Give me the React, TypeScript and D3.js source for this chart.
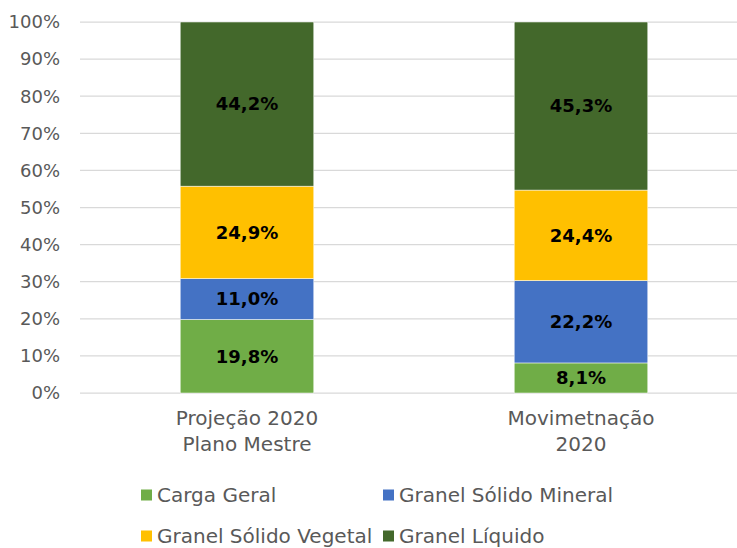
import React, { useEffect, useRef } from 'react'
import * as d3 from 'd3'

const categories = [['Projeção 2020', 'Plano Mestre'], ['Movimetnação', '2020']]
const seriesNames = ['Carga Geral', 'Granel Sólido Mineral', 'Granel Sólido Vegetal', 'Granel Líquido']
const seriesColors = ['#70AD47', '#4472C4', '#FFC000', '#43682B']
const cargaGeral = [19.8, 8.1]
const granelMineral = [11.0, 22.2]
const granelVegetal = [24.9, 24.4]
const granelLiquido = [44.2, 45.3]
const yTicks = [0, 10, 20, 30, 40, 50, 60, 70, 80, 90, 100]

const font = '"DejaVu Sans", sans-serif'

const App = () => {
    const ref = useRef<SVGSVGElement>(null)
    const width = 737
    const height = 548

    useEffect(() => {
        if (!ref.current) return
        const svg = d3.select(ref.current)
        svg.selectAll('*').remove()

        const values = [cargaGeral, granelMineral, granelVegetal, granelLiquido]
        const rows = categories.map((c, i) => {
            const row: any = { key: i }
            seriesNames.forEach((s, j) => { row[s] = values[j][i] })
            return row
        })
        const stacked = d3.stack().keys(seriesNames).offset(d3.stackOffsetExpand)(rows)

        const x = d3.scaleBand<number>()
            .domain(categories.map((_, i) => i))
            .range([80, 748])
            .paddingInner(0.6)
            .paddingOuter(0.3)
        const y = d3.scaleLinear().domain([0, 1]).range([393, 22])

        // gridlines
        svg.append('g')
            .selectAll('line')
            .data(yTicks)
            .join('line')
            .attr('x1', 80)
            .attr('x2', 748)
            .attr('y1', d => y(d / 100))
            .attr('y2', d => y(d / 100))
            .attr('stroke', '#D9D9D9')
            .attr('stroke-width', 1.25)

        svg.append('g')
            .selectAll('text')
            .data(yTicks)
            .join('text')
            .attr('x', 60)
            .attr('y', d => y(d / 100))
            .attr('dy', '0.35em')
            .attr('text-anchor', 'end')
            .style('font-family', font)
            .style('font-size', '18px')
            .attr('fill', '#595959')
            .text(d => d + '%')

        // bars
        stacked.forEach((layer, j) => {
            const g = svg.append('g')
            g.selectAll('rect')
                .data(layer)
                .join('rect')
                .attr('x', (_, i) => x(i)!)
                .attr('width', x.bandwidth())
                .attr('y', d => y(d[1]))
                .attr('height', d => y(d[0]) - y(d[1]))
                .attr('fill', seriesColors[j])
                .attr('stroke', '#ffffff')
                .attr('stroke-width', 0.5)
            g.selectAll('text')
                .data(layer)
                .join('text')
                .attr('x', (_, i) => x(i)! + x.bandwidth() / 2)
                .attr('y', d => (y(d[0]) + y(d[1])) / 2)
                .attr('dy', '0.35em')
                .attr('text-anchor', 'middle')
                .style('font-family', font)
                .style('font-size', '18px')
                .style('font-weight', 'bold')
                .attr('fill', '#000')
                .text((_, i) => values[j][i].toFixed(1).replace('.', ',') + '%')
        })

        // category labels
        const cat = svg.append('g')
        categories.forEach((lines, i) => {
            lines.forEach((l, k) => {
                cat.append('text')
                    .attr('x', x(i)! + x.bandwidth() / 2)
                    .attr('y', 418 + k * 26)
                    .attr('dy', '0.35em')
                    .attr('text-anchor', 'middle')
                    .style('font-family', font)
                    .style('font-size', '20px')
                    .attr('fill', '#595959')
                    .text(l)
            })
        })

        // legend
        const legX = [141, 383]
        const legY = [495, 536]
        const leg = svg.append('g')
        seriesNames.forEach((s, j) => {
            const lx = legX[j % 2]
            const ly = legY[Math.floor(j / 2)]
            leg.append('rect')
                .attr('x', lx)
                .attr('y', ly - 5.5)
                .attr('width', 11)
                .attr('height', 11)
                .attr('fill', seriesColors[j])
            leg.append('text')
                .attr('x', lx + 16)
                .attr('y', ly)
                .attr('dy', '0.35em')
                .style('font-family', font)
                .style('font-size', '20px')
                .attr('fill', '#595959')
                .text(s)
        })
    }, [])

    return (
        <svg ref={ref} width={width} height={height}
            style={{ position: 'absolute', left: 0, top: 0 }} />
    )
}

export default App
